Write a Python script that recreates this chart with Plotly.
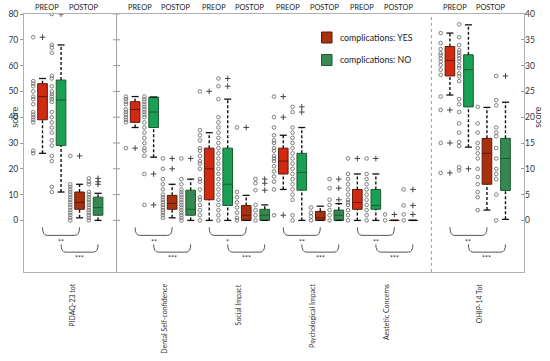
import plotly.graph_objects as go

# ---------------- data ----------------
groups = ["PIDAQ-23 tot", "Dental Self-confidence", "Social Impact",
          "Psychological Impact", "Aestetic Concerns", "OHIP-14 Tot"]
phase_labels = ["PREOP", "POSTOP"]
legend_labels = ["complications: YES", "complications: NO"]
sig_yes = ["**", "**", "*", "**", "**", "**"]      # PREOP vs POSTOP, complications YES
sig_no = ["***", "***", "***", "***", "***", "***"]  # PREOP vs POSTOP, complications NO
left_ticks = [0, 10, 20, 30, 40, 50, 60, 70, 80]
right_ticks = [0, 5, 10, 15, 20, 25, 30, 35, 40]

# (lower whisker, Q1, median, Q3, upper whisker) per group
yes_pre_stats = [(26, 39, 48, 53, 55), (36, 38, 43, 46, 48), (0, 8, 20, 28, 34),
                 (12, 18, 23, 28, 33), (0, 4.3, 7, 12, 18), (24.3, 28, 31, 33.7, 36.3)]
no_pre_stats = [(11, 29, 46.7, 54.4, 68), (24.5, 36, 42, 47.8, 47.8), (0, 5.8, 14, 28, 47),
                (0, 11.7, 18.6, 26, 36), (0, 4.3, 5.8, 12, 18), (14.2, 22, 29.2, 32.1, 37.9)]
yes_post_stats = [(1, 4.3, 7, 11, 14), (1, 4.3, 6.6, 9.7, 14), (0, 0, 2, 5.8, 9.7),
                  (0, 0, 1, 3.5, 5.5), (0, 0, 0, 0, 0), (2, 7, 13, 15.9, 21.9)]
no_post_stats = [(0, 2, 5, 9, 10.5), (0, 2, 4.3, 11.7, 16), (0, 0, 2, 4.3, 6),
                 (0, 0, 2, 4, 6.5), (0, 0, 0, 0, 0), (0.2, 5.8, 12, 15.9, 22.9)]

# outliers (+)
yes_pre_out = [[71], [28], [50], [48, 40, 2], [24], [21.4, 15, 9.2]]
no_pre_out = [[80], [18, 6], [55, 52], [44, 42], [24], [10]]
yes_post_out = [[25], [24, 20], [36], [], [2.3], []]
no_post_out = [[16.3, 15, 14], [24], [16, 14.4, 11.7], [16, 12.5, 8], [12, 5.8, 2.3], [28]]

# individual observations (o)
yes_pre_pts = [
    [71, 54, 53, 52, 50, 48, 47, 45, 42, 41, 40, 39, 38, 27, 26],
    [48, 47, 46, 45, 43, 42, 41, 40, 39, 38, 28],
    [50, 35, 33, 31, 28, 27, 25, 23, 22, 20, 16, 15, 12, 9, 8, 6, 4, 2, 0],
    [48, 40, 36, 33, 31, 30, 28, 27, 25, 24, 23, 21, 19, 17, 15, 12, 2],
    [24, 18, 16, 14, 12, 10, 8, 7, 6, 4, 2, 0],
    [36.3, 34.4, 33.2, 32.4, 32, 31.4, 30.8, 30.1, 29.2, 28.2, 24, 21.4, 15, 9.2]]
no_pre_pts = [
    [80, 68, 67, 65, 56, 55, 52, 50, 49, 48, 47, 46, 42, 40, 38, 36, 34, 31, 29, 25, 23, 13, 11],
    [48, 47, 46, 45, 44, 43, 42, 41, 40, 38, 36, 34, 32, 30, 28, 27, 25, 18, 6],
    [55, 52, 47, 40, 38, 36, 34, 32, 30, 28, 26, 24, 22, 20, 18, 16, 14, 12, 10, 8, 6, 4, 2, 0],
    [44, 42, 36, 34, 32, 30, 28, 26, 24, 22, 20, 18, 16, 14, 12, 10, 8, 2, 0],
    [24, 18, 16, 14, 12, 10, 8, 6, 4, 2, 0],
    [38, 35.5, 34, 33, 32.5, 32, 31.4, 30.8, 30, 29.5, 28.5, 27.9, 27, 23.5, 22.5, 21,
     18.8, 17, 15.2, 14.4, 10.3, 9.7]]
yes_post_pts = [
    [25, 14, 13, 12, 11, 10, 9, 8, 7, 6, 5, 4, 3, 2, 1, 0],
    [24, 20, 16, 14, 12, 10, 9, 8, 7, 6, 5, 4, 3, 2, 1],
    [36, 11, 9, 7, 5, 3, 1, 0],
    [5, 3, 1.5, 0],
    [2.3, 0],
    [22, 18.8, 17, 15, 14, 13, 12, 10, 8.4, 7, 5.5, 4.5, 2]]
no_post_pts = [
    [16.3, 15, 14, 11, 10, 9, 8, 7, 6, 5, 4, 3, 2, 1, 0],
    [24, 16, 14, 12, 11, 10, 9, 8, 7, 6, 5, 4, 3, 2, 1, 0],
    [16, 14.4, 11.7, 6, 4, 2, 0],
    [16, 12.5, 8, 6, 4, 2, 0],
    [12, 5.8, 2.3, 0],
    [28, 23.3, 22.3, 18, 17, 16.3, 14, 12, 10, 9, 8, 5, 0]]

# ---------------- layout constants ----------------
W, H = 550, 361
ML, MR, MT, MB = 24, 26, 14, 89
PW, PH = W - ML - MR, H - MT - MB
GROUP_START = [0, 5, 9, 13, 17, 22]
RIGHT_AXIS_GROUP = 5
PT_SHIFT = -0.5
BOX_W = 0.52
FONT = "Lato"

def px_x(px):
    return (px - ML) / PW

def px_y(py):
    return (H - MB - py) / PH

series = [
    (yes_pre_stats, yes_pre_pts, yes_pre_out, 0, "#d22a12", "#5e1a08"),
    (no_pre_stats, no_pre_pts, no_pre_out, 1, "#19a052", "#1b5a32"),
    (yes_post_stats, yes_post_pts, yes_post_out, 2, "#a8300f", "#5e1a08"),
    (no_post_stats, no_post_pts, no_post_out, 3, "#35884f", "#1b5a32"),
]

fig = go.Figure()

for stats, pts, outs, off, fill, edge in series:
    for axis_name, gidx in (("y", [g for g in range(len(groups)) if g != RIGHT_AXIS_GROUP]),
                            ("y2", [RIGHT_AXIS_GROUP])):
        xs = [GROUP_START[g] + off for g in gidx]
        lo = [stats[g][0] for g in gidx]
        q1 = [stats[g][1] for g in gidx]
        md = [stats[g][2] for g in gidx]
        q3 = [stats[g][3] for g in gidx]
        hi = [stats[g][4] for g in gidx]
        # whiskers (dashed)
        wx, wy = [], []
        for x, a, b, c, d in zip(xs, lo, q1, q3, hi):
            wx += [x, x, None, x, x, None]
            wy += [c, d, None, a, b, None]
        fig.add_trace(go.Scatter(x=wx, y=wy, mode="lines", yaxis=axis_name,
                                 line=dict(color="#111111", width=1.4, dash="3px,2px"),
                                 showlegend=False, hoverinfo="skip"))
        # whisker caps
        fig.add_trace(go.Scatter(x=xs + xs, y=lo + hi, mode="markers", yaxis=axis_name,
                                 marker=dict(symbol="line-ew", size=5, color="#111111",
                                             line=dict(color="#111111", width=1.3)),
                                 showlegend=False, hoverinfo="skip"))
        # boxes
        fig.add_trace(go.Box(x=xs, q1=q1, median=md, q3=q3, lowerfence=q1, upperfence=q3,
                             width=BOX_W, whiskerwidth=0, fillcolor=fill,
                             line=dict(color=edge, width=1), boxpoints=False,
                             yaxis=axis_name, showlegend=False, hoverinfo="skip"))
        # individual observations
        px_, py_ = [], []
        for g in gidx:
            for v in pts[g]:
                px_.append(GROUP_START[g] + off + PT_SHIFT)
                py_.append(v)
        fig.add_trace(go.Scatter(x=px_, y=py_, mode="markers", yaxis=axis_name,
                                 marker=dict(symbol="circle-open", size=3.6, color="#707070",
                                             line=dict(width=0.9)),
                                 showlegend=False, hoverinfo="skip"))
        # outliers
        ox, oy = [], []
        for g in gidx:
            for v in outs[g]:
                ox.append(GROUP_START[g] + off)
                oy.append(v)
        fig.add_trace(go.Scatter(x=ox, y=oy, mode="markers", yaxis=axis_name,
                                 marker=dict(symbol="cross-thin-open", size=4, color="#444444",
                                             line=dict(color="#444444", width=1)),
                                 showlegend=False, hoverinfo="skip"))

# tick marks on the solid separator
fig.add_trace(go.Scatter(x=[GROUP_START[1] - 1] * len(left_ticks), y=left_ticks, mode="markers",
                         marker=dict(symbol="line-ew", size=5, color="#999999",
                                     line=dict(color="#999999", width=1)),
                         showlegend=False, hoverinfo="skip"))

shapes = []
annotations = []

# separators
shapes.append(dict(type="line", xref="x", yref="paper", x0=GROUP_START[1] - 1,
                   x1=GROUP_START[1] - 1, y0=0, y1=1, line=dict(color="#a0a0a0", width=1)))
shapes.append(dict(type="line", xref="x", yref="paper", x0=GROUP_START[5] - 1,
                   x1=GROUP_START[5] - 1, y0=0, y1=1,
                   line=dict(color="#a0a0a0", width=1, dash="dot")))

def brace(x0, x1, top, bot, r=0.25):
    return dict(type="path", xref="x", yref="y",
                path=f"M {x0},{top} Q {x0},{bot} {x0 + r},{bot} L {x1 - r},{bot} "
                     f"Q {x1},{bot} {x1},{top}",
                line=dict(color="#555555", width=1))

for g, s in enumerate(GROUP_START):
    shapes.append(brace(s + 0, s + 2, -2.7, -5.8))
    shapes.append(brace(s + 1, s + 3, -9.3, -12.3))
    annotations.append(dict(x=s + 1, y=-8.4, xref="x", yref="y", text=sig_yes[g],
                            showarrow=False, font=dict(size=7, color="#333", family=FONT)))
    annotations.append(dict(x=s + 2, y=-14.6, xref="x", yref="y", text=sig_no[g],
                            showarrow=False, font=dict(size=7, color="#333", family=FONT)))
    # phase labels on top
    annotations.append(dict(x=s + 0.25, y=px_y(8), xref="x", yref="paper", text=phase_labels[0],
                            showarrow=False, yanchor="middle",
                            font=dict(size=7.4, color="#222", family=FONT)))
    annotations.append(dict(x=s + 2.2, y=px_y(8), xref="x", yref="paper", text=phase_labels[1],
                            showarrow=False, yanchor="middle",
                            font=dict(size=7.4, color="#222", family=FONT)))
    # group labels at bottom
    annotations.append(dict(x=s + 1.55, y=px_y(282), xref="x", yref="paper", text=groups[g],
                            textangle=-90, showarrow=False, xanchor="center", yanchor="top",
                            font=dict(size=7, color="#333", family=FONT)))

# axis titles
annotations.append(dict(x=px_x(7), y=40, xref="paper", yref="y", text="score", textangle=-90,
                        showarrow=False, font=dict(size=9, color="#333", family=FONT)))
annotations.append(dict(x=px_x(545), y=40, xref="paper", yref="y", text="score", textangle=-90,
                        showarrow=False, font=dict(size=9, color="#333", family=FONT)))

# legend
leg_fill = ["#a8320e", "#3a8a55"]
leg_edge = ["#5e1a08", "#1b5a32"]
for i, (lab, cy) in enumerate(zip(legend_labels, [37.5, 60])):
    shapes.append(dict(type="rect", xref="paper", yref="paper",
                       x0=px_x(321.5), x1=px_x(332), y0=px_y(cy + 5.5), y1=px_y(cy - 5.5),
                       fillcolor=leg_fill[i], line=dict(color=leg_edge[i], width=1)))
    annotations.append(dict(x=px_x(338), y=px_y(cy), xref="paper", yref="paper", text=lab,
                            xanchor="left", yanchor="middle", showarrow=False,
                            font=dict(size=8.8, color="#222", family=FONT)))

fig.update_layout(
    width=W, height=H,
    margin=dict(l=ML, r=MR, t=MT, b=MB, pad=0, autoexpand=False),
    paper_bgcolor="white", plot_bgcolor="white",
    font=dict(family=FONT, size=9, color="#333"),
    showlegend=False,
    shapes=shapes, annotations=annotations,
    xaxis=dict(range=[-1, 26], showgrid=False, zeroline=False, showticklabels=False,
               ticks="", showline=True, mirror=True, linecolor="#b0b0b0", linewidth=1),
    yaxis=dict(range=[-20, 80], tickvals=left_ticks, showgrid=False, zeroline=False,
               ticks="outside", ticklen=3, tickcolor="#999", showline=True, mirror=True,
               linecolor="#b0b0b0", linewidth=1, tickfont=dict(size=8.5, color="#333")),
    yaxis2=dict(range=[-10, 40], tickvals=right_ticks, overlaying="y", side="right",
                showgrid=False, zeroline=False, ticks="inside", ticklen=3, tickcolor="#999",
                showline=False, tickfont=dict(size=8.5, color="#333")),
)

fig.write_html("out.html", config={"displayModeBar": False},
               post_script="document.body.style.margin='0';document.body.style.padding='0';")
